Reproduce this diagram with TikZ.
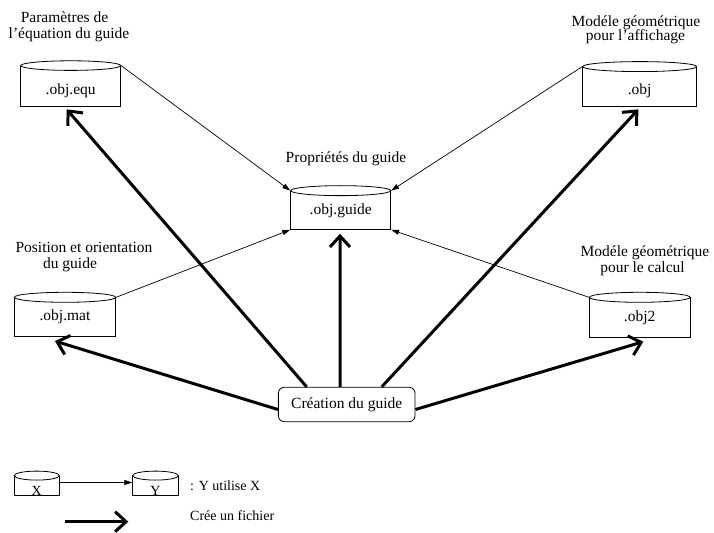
\documentclass[tikz,border=0pt]{standalone}
\usepackage{fontspec}
\setmainfont{Liberation Serif}
\usetikzlibrary{arrows.meta}
\newcommand{\mainfs}{\fontsize{15.5bp}{18bp}\selectfont}
\newcommand{\legfs}{\fontsize{14bp}{16bp}\selectfont}
\tikzset{
  db/.style={draw, line width=0.8bp, fill=white, inner sep=0pt, font=\mainfs, text depth=0pt},
  dbtop/.style={draw, line width=0.8bp, fill=white},
  uses/.style={draw, line width=0.7bp, -{Triangle[length=8bp,width=5bp]}},
  creates/.style={draw, line width=3bp, -{Straight Barb[length=11bp,width=20bp]}},
  lbl/.style={anchor=base, inner sep=0pt, font=\mainfs},
  leg/.style={anchor=base west, inner sep=0pt, font=\legfs},
}
\begin{document}
\begin{tikzpicture}[x=1bp,y=-1bp]
\useasboundingbox (0,0) rectangle (714,533);

% labels
\node[lbl] (l1a) at (64.5,23) {Paramètres de};
\node[lbl] (l1b) at (69,39) {l’équation du guide};
\node[lbl] (l2a) at (636,27) {Modéle géométrique};
\node[lbl] (l2b) at (635.5,41) {pour l’affichage};
\node[lbl] (l3) at (346,163) {Propriétés du guide};
\node[lbl] (l4a) at (84,252.5) {Position et orientation};
\node[lbl] (l4b) at (70,269) {du guide};
\node[lbl] (l5a) at (645,257) {Modéle géométrique};
\node[lbl] (l5b) at (642.5,273) {pour le calcul};

% boxes
\node[db, minimum width=100bp, minimum height=40bp, text height=18bp] (equ) at (70.7,86) {.obj.equ};
\draw[dbtop] (equ.north) ellipse [x radius=50bp, y radius=4.8bp];

\node[db, minimum width=100bp, minimum height=38.3bp, text height=8bp] (guide) at (340.7,210.2) {.obj.guide};
\draw[dbtop] (guide.north) ellipse [x radius=50bp, y radius=5bp];

\node[db, minimum width=101.4bp, minimum height=39bp, text height=7.4bp] (mat) at (65,317.2) {.obj.mat};
\draw[dbtop] (mat.north) ellipse [x radius=50.7bp, y radius=5bp];

\node[db, minimum width=114bp, minimum height=39bp, text height=17bp] (obj) at (639.7,86.5) {.obj};
\draw[dbtop] (obj.north) ellipse [x radius=57bp, y radius=5bp];

\node[db, minimum width=100.7bp, minimum height=39.6bp, text height=8.4bp] (obj2) at (639.7,317.5) {.obj2};
\draw[dbtop] (obj2.north) ellipse [x radius=50.35bp, y radius=5bp];

\node[draw, line width=0.8bp, rounded corners=6bp, minimum width=136.7bp, minimum height=34.4bp, inner sep=0pt, font=\mainfs] (cr) at (346.7,404.5) {Création du guide};

% uses arrows
\draw[uses] (equ.north east) -- (guide.north west);
\draw[uses] (obj.north west) -- (guide.north east);
\draw[uses] (mat.north east) -- (guide.south west);
\draw[uses] (obj2.north west) -- (guide.south east);

% creates arrows
\draw[creates] ([xshift=-40bp]cr.north) -- ([xshift=-4bp,yshift=-3bp]equ.south);
\draw[creates] ([xshift=-6.7bp]cr.north) -- ([xshift=-0.7bp,yshift=-4bp]guide.south);
\draw[creates] ([xshift=35bp]cr.north) -- ([xshift=-1.4bp,yshift=-3bp]obj.south);
\draw[creates] ([yshift=-5bp]cr.west) -- ([xshift=-10bp,yshift=-4bp]mat.south);
\draw[creates] ([yshift=-5bp]cr.east) -- ([xshift=3.6bp,yshift=-4bp]obj2.south);

% legend
\node[db, font=\legfs, minimum width=45bp, minimum height=19bp, text height=19bp] (lx) at (36.8,485.5) {X};
\draw[dbtop] (lx.north) ellipse [x radius=22.5bp, y radius=4.5bp];
\node[db, font=\legfs, minimum width=45.6bp, minimum height=19bp, text height=19bp] (ly) at (155.5,485.5) {Y};
\draw[dbtop] (ly.north) ellipse [x radius=22.8bp, y radius=4.5bp];
\draw[uses] ([yshift=3bp]lx.east) -- ([yshift=3bp]ly.west);
\node[leg] (lt1) at (190,490) {: Y utilise X};
\coordinate (ca) at (65,521.7);
\coordinate (cb) at (128.3,521.7);
\draw[creates] (ca) -- (cb);
\node[leg] (lt2) at (190,520) {Crée un fichier};
\end{tikzpicture}
\end{document}
